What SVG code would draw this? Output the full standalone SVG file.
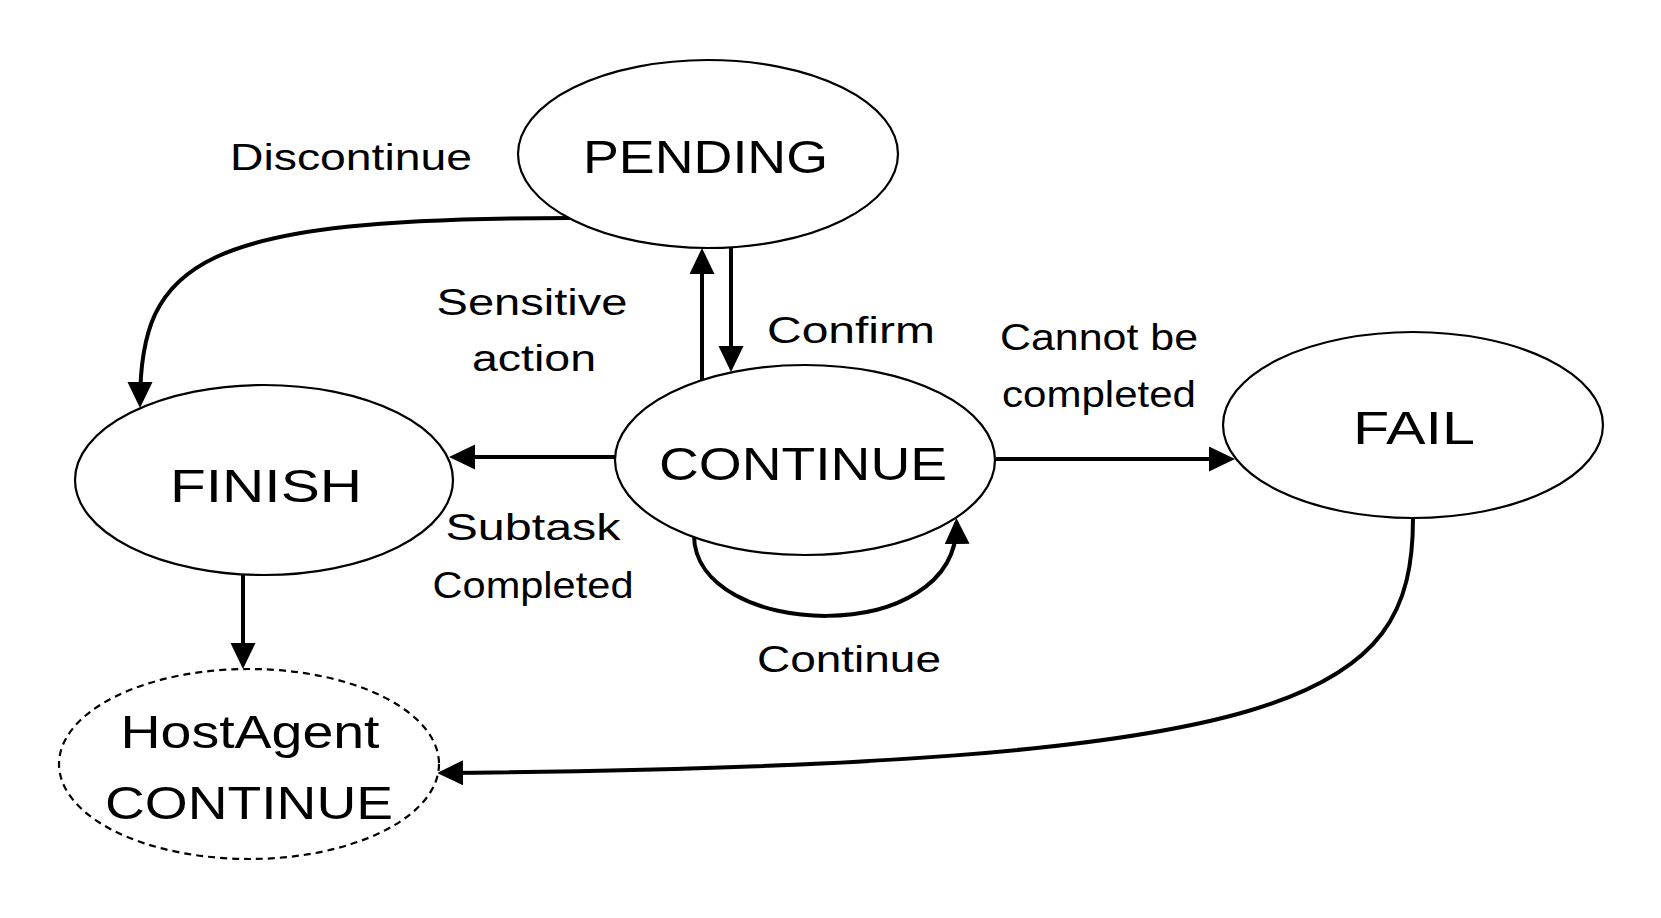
<svg xmlns="http://www.w3.org/2000/svg" width="1661" height="918" viewBox="0 0 1661 918">
<defs>
<style>
.node{fill:#fff;stroke:#000;stroke-width:2.2}
.dashed{stroke-dasharray:7 5}
.nt{font-family:"Liberation Sans","Noto Sans",sans-serif;font-size:46px;fill:#000;text-anchor:middle}
.lt{font-family:"Liberation Sans","Noto Sans",sans-serif;font-size:36px;fill:#000;text-anchor:middle}
.edge{fill:none;stroke:#000;stroke-width:4;marker-end:url(#ah)}
</style>
<marker id="ah" markerUnits="userSpaceOnUse" markerWidth="26" markerHeight="26" refX="22" refY="12.5" orient="auto">
<path d="M0,0 L26,12.5 L0,25 Z" fill="#000"/>
</marker>
</defs>
<rect width="1661" height="918" fill="#fff"/>
<g id="connectors">
<path class="edge" d="M570,218 C200,218 140,260 140,404"/>
<path class="edge" d="M702,382 L702,252"/>
<path class="edge" d="M731,248 L731,368"/>
<path class="edge" d="M616,457 L453,457"/>
<path class="edge" d="M996,459 L1231,459"/>
<path class="edge" d="M694,535 C694,640 960,650 956.5,522"/>
<path class="edge" d="M243,575 L243,665"/>
<path class="edge" d="M1413,518 C1413,700 1300,765 441,773"/>
</g>
<g id="labels">
<text class="lt" x="351" y="170" textLength="242" lengthAdjust="spacingAndGlyphs">Discontinue</text>
<text class="lt" x="532" y="315" textLength="191" lengthAdjust="spacingAndGlyphs">Sensitive</text>
<text class="lt" x="534" y="371" textLength="124" lengthAdjust="spacingAndGlyphs">action</text>
<text class="lt" x="851" y="343" textLength="168" lengthAdjust="spacingAndGlyphs">Confirm</text>
<text class="lt" x="1099" y="350" textLength="198" lengthAdjust="spacingAndGlyphs">Cannot be</text>
<text class="lt" x="1099" y="407" textLength="194" lengthAdjust="spacingAndGlyphs">completed</text>
<text class="lt" x="533" y="540" textLength="175" lengthAdjust="spacingAndGlyphs">Subtask</text>
<text class="lt" x="533" y="598" textLength="201" lengthAdjust="spacingAndGlyphs">Completed</text>
<text class="lt" x="849" y="672" textLength="184" lengthAdjust="spacingAndGlyphs">Continue</text>
</g>
<g id="node-pending">
<ellipse class="node" cx="708" cy="154" rx="190" ry="94"/>
<text class="nt" x="705.5" y="173" textLength="245" lengthAdjust="spacingAndGlyphs">PENDING</text>
</g>
<g id="node-continue">
<ellipse class="node" cx="805" cy="460" rx="190" ry="95"/>
<text class="nt" x="803" y="480" textLength="288" lengthAdjust="spacingAndGlyphs">CONTINUE</text>
</g>
<g id="node-finish">
<ellipse class="node" cx="264" cy="480" rx="189" ry="95"/>
<text class="nt" x="266" y="502" textLength="192" lengthAdjust="spacingAndGlyphs">FINISH</text>
</g>
<g id="node-fail">
<ellipse class="node" cx="1413" cy="425" rx="190" ry="93"/>
<text class="nt" x="1414" y="444" textLength="122" lengthAdjust="spacingAndGlyphs">FAIL</text>
</g>
<g id="node-hostagent">
<ellipse class="node dashed" cx="249" cy="764" rx="190" ry="95"/>
<text class="nt" x="250" y="748" textLength="259" lengthAdjust="spacingAndGlyphs">HostAgent</text>
<text class="nt" x="249" y="819" textLength="288" lengthAdjust="spacingAndGlyphs">CONTINUE</text>
</g>
</svg>
